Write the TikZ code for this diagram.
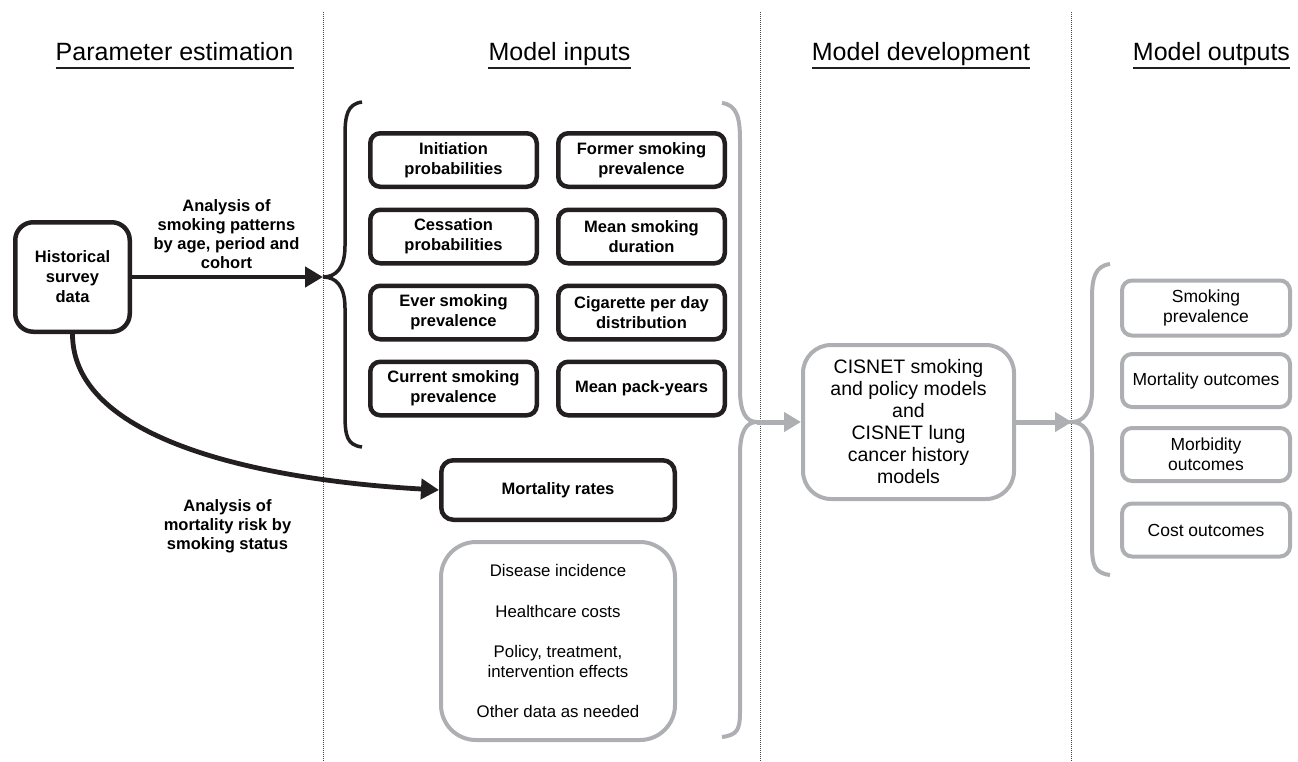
\documentclass[tikz,border=0pt]{standalone}
\usepackage{fontspec}
\setmainfont{Liberation Sans}
\usetikzlibrary{arrows.meta,calc}
\definecolor{dk}{HTML}{231F20}
\definecolor{gr}{HTML}{ADAFB2}
\definecolor{dotc}{HTML}{444444}
\begin{document}
\begin{tikzpicture}[x=1pt,y=-1pt,
  bbox/.style={draw=dk, line width=4.5pt, rounded corners=10pt, align=center,
    font=\fontsize{16.5}{20}\selectfont\bfseries, inner sep=0pt},
  gbox/.style={draw=gr, line width=4pt, rounded corners=10pt, align=center,
    font=\fontsize{17.5}{20}\selectfont, inner sep=0pt},
  head/.style={font=\fontsize{25}{30}\selectfont, inner sep=0pt, anchor=base},
  lbl/.style={font=\fontsize{16.5}{19}\selectfont\bfseries, align=center, inner sep=0pt},
  sep/.style={draw=dotc, line width=0.9pt, dash pattern=on 0.9pt off 1.1pt},
  blackbrace/.style={draw=dk, line width=3.5pt},
  graybrace/.style={draw=gr, line width=4pt},
  blackarrow/.style={draw=dk, line width=4.8pt, -{Triangle[length=18pt,width=20pt]}},
  grayarrow/.style={draw=gr, line width=5pt, -{Triangle[length=17pt,width=19pt]}},
  uline/.style={draw=dk, line width=2pt}
]
\useasboundingbox (0,0) rectangle (1298,761);

% column separators
\draw[sep] (323,12) -- (323,761);
\draw[sep] (760,12) -- (760,761);
\draw[sep] (1071,12) -- (1071,761);

% headers
\node[head] (h1) at (174.5,60) {Parameter estimation};
\node[head] (h2) at (559.5,60) {Model inputs};
\node[head] (h3) at (921,60) {Model development};
\node[head] (h4) at (1211.5,60) {Model outputs};
\foreach \h in {h1,h2,h3,h4}
  \draw[uline] ($(\h.base west)+(0,8)$) -- ($(\h.base east)+(0,8)$);

% braces
\coordinate (lbtip) at (323,277);
\draw[blackbrace] (362,102) .. controls (347,104) and (345,116) .. (345,136)
  -- (345,246) .. controls (345,268) and (336,277) .. (lbtip)
  .. controls (336,277) and (345,286) .. (345,308)
  -- (345,414) .. controls (345,436) and (347,445) .. (362,447);

\coordinate (gbtip) at (757,422);
\draw[graybrace] (722,103) .. controls (737,105) and (740,118) .. (740,140)
  -- (740,390) .. controls (740,412) and (746,422) .. (gbtip)
  .. controls (746,422) and (740,432) .. (740,454)
  -- (740,712) .. controls (740,730) and (737,735) .. (722,737);

\coordinate (rbtip) at (1072,422);
\draw[graybrace] (1110,264) .. controls (1095,266) and (1092,278) .. (1092,298)
  -- (1092,392) .. controls (1092,412) and (1083,422) .. (rbtip)
  .. controls (1083,422) and (1092,432) .. (1092,452)
  -- (1092,545) .. controls (1092,566) and (1095,573) .. (1110,575);

% parameter estimation
\node[bbox, rounded corners=18pt, minimum width=114.5pt, minimum height=109.5pt]
  (hist) at (72.5,277) {Historical\\survey\\data};
\node[lbl] (l1) at (226.5,234) {Analysis of\\smoking patterns\\by age, period and\\cohort};
\node[lbl] (l2) at (227.5,526) {Analysis of\\mortality risk by\\smoking status};

% model inputs
\node[bbox, minimum width=166.5pt, minimum height=53.5pt] (i1) at (453.5,160) {Initiation\\probabilities};
\node[bbox, minimum width=166.5pt, minimum height=53.5pt] (i2) at (641.5,160) {Former smoking\\prevalence};
\node[bbox, minimum width=166.5pt, minimum height=53.5pt] (i3) at (453.5,236.5) {Cessation\\probabilities};
\node[bbox, minimum width=166.5pt, minimum height=53.5pt] (i4) at (641.5,236.5) {Mean smoking\\duration};
\node[bbox, minimum width=166.5pt, minimum height=53.5pt] (i5) at (453.5,312.5) {Ever smoking\\prevalence};
\node[bbox, minimum width=166.5pt, minimum height=53.5pt] (i6) at (641.5,312.5) {Cigarette per day\\distribution};
\node[bbox, minimum width=166.5pt, minimum height=53.5pt] (i7) at (453.5,388.5) {Current smoking\\prevalence};
\node[bbox, minimum width=166.5pt, minimum height=53.5pt] (i8) at (641.5,388.5) {Mean pack-years};

\node[bbox, rounded corners=12pt, minimum width=233.5pt, minimum height=59.5pt] (mort) at (558,490) {Mortality rates};
\node[gbox, rounded corners=35pt, minimum width=234pt, minimum height=198pt,
  font=\fontsize{16.8}{19.5}\selectfont] (other) at (558,641)
  {Disease incidence\\[21pt]Healthcare costs\\[21pt]Policy, treatment,\\intervention effects\\[21pt]Other data as needed};

% model development
\node[gbox, rounded corners=28pt, minimum width=211pt, minimum height=154pt,
  font=\fontsize{19.5}{22}\selectfont] (cis) at (908.5,422)
  {CISNET smoking\\and policy models\\and\\CISNET lung\\cancer history\\models};

% model outputs
\node[gbox, minimum width=168pt, minimum height=55pt] (o1) at (1206,308) {Smoking\\prevalence};
\node[gbox, minimum width=168pt, minimum height=53pt] (o2) at (1206,380.5) {Mortality outcomes};
\node[gbox, minimum width=168pt, minimum height=53pt] (o3) at (1206,454.5) {Morbidity\\outcomes};
\node[gbox, minimum width=168pt, minimum height=53pt] (o4) at (1206,530) {Cost outcomes};

% connectors
\draw[blackarrow] (hist.east) -- (lbtip);
\draw[blackarrow] (hist.south) .. controls (72.5,440) and (260,480) .. (mort.west);
\draw[grayarrow] (gbtip) -- (cis.west);
\draw[grayarrow] (cis.east) -- (rbtip);
\end{tikzpicture}
\end{document}
